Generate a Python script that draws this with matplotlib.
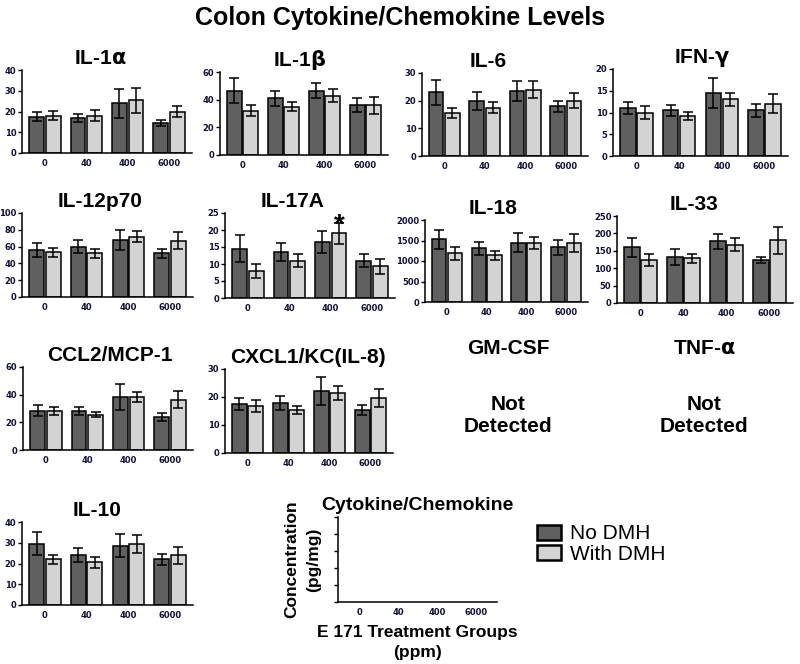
import numpy as np
import matplotlib
matplotlib.use("Agg")
import matplotlib.pyplot as plt
from matplotlib.patches import Patch

plt.rcParams.update({"font.family": ["Liberation Sans", "DejaVu Sans"]})

W, H = 800, 664

groups = ["0", "40", "400", "6000"]

# ---------- values (mean, SEM) ----------
il1a_no = [17.5, 16.8, 24.0, 14.5]
il1a_no_err = [2.2, 1.8, 7.0, 1.3]
il1a_with = [18.0, 18.0, 25.5, 20.0]
il1a_with_err = [2.2, 2.7, 6.0, 2.8]

il1b_no = [46.5, 41.0, 46.5, 36.0]
il1b_no_err = [9.0, 5.5, 5.5, 5.0]
il1b_with = [32.0, 35.0, 43.0, 36.0]
il1b_with_err = [4.0, 3.5, 5.0, 6.0]

il6_no = [23.0, 20.0, 23.5, 18.0]
il6_no_err = [4.5, 3.2, 3.7, 2.0]
il6_with = [15.5, 17.5, 24.0, 20.0]
il6_with_err = [1.7, 2.0, 3.0, 2.8]

ifng_no = [11.0, 10.5, 14.5, 10.5]
ifng_no_err = [1.3, 1.3, 3.5, 1.5]
ifng_with = [10.0, 9.2, 13.0, 12.0]
ifng_with_err = [1.5, 1.0, 1.5, 2.2]

il12_no = [56.0, 60.0, 68.0, 52.0]
il12_no_err = [8.0, 8.0, 12.0, 5.0]
il12_with = [53.0, 52.0, 72.0, 67.0]
il12_with_err = [5.0, 5.0, 7.0, 10.0]

il17_no = [14.5, 13.5, 16.5, 11.0]
il17_no_err = [4.0, 2.7, 3.2, 1.8]
il17_with = [8.0, 11.0, 19.0, 9.3]
il17_with_err = [2.0, 2.0, 3.0, 2.3]

il18_no = [1530, 1305, 1445, 1330]
il18_no_err = [235, 150, 233, 175]
il18_with = [1185, 1140, 1445, 1445]
il18_with_err = [155, 115, 147, 225]

il33_no = [160, 132, 177, 124]
il33_no_err = [28, 23, 22, 9]
il33_with = [124, 128, 168, 180]
il33_with_err = [17, 14, 18, 38]

ccl2_no = [28.5, 28.0, 38.5, 24.0]
ccl2_no_err = [4.0, 3.0, 9.5, 3.0]
ccl2_with = [28.0, 25.5, 38.5, 36.5]
ccl2_with_err = [3.0, 2.0, 3.5, 6.0]

cxcl1_no = [17.5, 18.0, 22.0, 15.5]
cxcl1_no_err = [2.0, 2.5, 5.0, 1.8]
cxcl1_with = [16.8, 15.3, 21.5, 19.5]
cxcl1_with_err = [2.0, 1.5, 2.5, 3.2]

il10_no = [29.5, 24.0, 28.5, 22.0]
il10_no_err = [5.5, 3.5, 5.5, 2.7]
il10_with = [22.0, 20.5, 29.5, 24.0]
il10_with_err = [2.2, 2.8, 4.2, 4.0]

DARK = "#606060"
LIGHT = "#d3d3d3"
TICKC = "#10103a"


def px_rect(l, r, t, b):
    return [l / W, 1 - b / H, (r - l) / W, (b - t) / H]


def style_axes(ax, ymax, ystep):
    ax.set_xlim(-0.55, 3.55)
    ax.set_ylim(0, ymax)
    ax.set_yticks(np.arange(0, ymax + ystep / 2, ystep))
    ax.set_xticks(range(len(groups)))
    ax.set_xticklabels(groups)
    for s in ["top", "right"]:
        ax.spines[s].set_visible(False)
    for s in ["left", "bottom"]:
        ax.spines[s].set_linewidth(1.1)
    ax.tick_params(axis="y", length=3, width=1.0, pad=1, labelsize=6, labelcolor=TICKC)
    ax.tick_params(axis="x", length=0, pad=4, labelsize=6, labelcolor=TICKC)
    for lab in ax.get_xticklabels() + ax.get_yticklabels():
        lab.set_fontweight("bold")
        lab.set_family("DejaVu Sans")


def panel(rect, title, title_cx, no, no_err, wi, wi_err, ymax, ystep):
    l, r, t, b = rect
    ax = fig.add_axes(px_rect(*rect))
    x = np.arange(len(groups))
    w = 0.36
    ek = dict(elinewidth=1.1, capthick=1.1, ecolor="black")
    ax.bar(x - 0.2, no, w, yerr=no_err, color=DARK, edgecolor="black",
           linewidth=1.1, capsize=3.5, error_kw=ek)
    ax.bar(x + 0.2, wi, w, yerr=wi_err, color=LIGHT, edgecolor="black",
           linewidth=1.1, capsize=3.5, error_kw=ek)
    style_axes(ax, ymax, ystep)
    ax.set_title(title, fontsize=15, fontweight="bold", pad=4,
                 x=(title_cx - l) / (r - l))
    return ax


fig = plt.figure(figsize=(W / 100, H / 100), dpi=100)
fig.text(0.5, 1 - 18 / H, "Colon Cytokine/Chemokine Levels", ha="center", va="center",
         fontsize=18, fontweight="bold")

panel((22, 192, 70, 153), r"IL-1$\mathbf{\alpha}$", 100, il1a_no, il1a_no_err, il1a_with, il1a_with_err, 40, 10)
panel((220, 388, 72, 155), r"IL-1$\mathbf{\beta}$", 300, il1b_no, il1b_no_err, il1b_with, il1b_with_err, 60, 20)
panel((422, 588, 73, 156), "IL-6", 488, il6_no, il6_no_err, il6_with, il6_with_err, 30, 10)
panel((613, 788, 69, 156), r"IFN-$\mathbf{\gamma}$", 702, ifng_no, ifng_no_err, ifng_with, ifng_with_err, 20, 5)

panel((22, 193, 213, 297), "IL-12p70", 100, il12_no, il12_no_err, il12_with, il12_with_err, 100, 20)
ax17 = panel((225, 395, 213, 298), "IL-17A", 293, il17_no, il17_no_err, il17_with, il17_with_err, 25, 5)
ax17.annotate("*", (2.2, il17_with[2] + il17_with_err[2]), xytext=(0, -7),
              textcoords="offset points", ha="center", va="baseline",
              fontsize=20, fontweight="bold")
panel((425, 588, 220, 302), "IL-18", 493, il18_no, il18_no_err, il18_with, il18_with_err, 2000, 500)
panel((617, 793, 216, 303), "IL-33", 694, il33_no, il33_no_err, il33_with, il33_with_err, 250, 50)

panel((23, 193, 367, 450), "CCL2/MCP-1", 110, ccl2_no, ccl2_no_err, ccl2_with, ccl2_with_err, 60, 20)
panel((225, 393, 369, 453), "CXCL1/KC(IL-8)", 308, cxcl1_no, cxcl1_no_err, cxcl1_with, cxcl1_with_err, 30, 10)

# not detected cytokines
for cx, name in [(508, "GM-CSF"), (704, r"TNF-$\mathbf{\alpha}$")]:
    fig.text(cx / W, 1 - 348 / H, name, ha="center", va="center",
             fontsize=15, fontweight="bold")
    fig.text(cx / W, 1 - 415 / H, "Not\nDetected", ha="center", va="center",
             fontsize=15, fontweight="bold", linespacing=1.2)

panel((22, 193, 522, 605), "IL-10", 97, il10_no, il10_no_err, il10_with, il10_with_err, 40, 10)

# key panel with axis labels and legend
axk = fig.add_axes(px_rect(338, 497, 517, 602))
style_axes(axk, 50, 10)
axk.set_yticklabels([])
axk.set_title("Cytokine/Chemokine", fontsize=14, fontweight="bold", pad=5)
axk.set_ylabel("Concentration\n(pg/mg)", fontsize=12.5, fontweight="bold", labelpad=8,
               linespacing=1.55)
axk.set_xlabel("E 171 Treatment Groups\n(ppm)", fontsize=12.5, fontweight="bold",
               labelpad=6, linespacing=1.4)
handles = [Patch(facecolor=DARK, edgecolor="black", linewidth=1.8, label="No DMH"),
           Patch(facecolor=LIGHT, edgecolor="black", linewidth=1.8, label="With DMH")]
fig.legend(handles=handles, loc="center left", bbox_to_anchor=(537 / W, 1 - 544 / H),
           frameon=False, fontsize=15, handlelength=1.15, handleheight=0.75,
           handletextpad=0.45, labelspacing=0.05, borderaxespad=0, borderpad=0)

fig.savefig("out.png", dpi=100)
